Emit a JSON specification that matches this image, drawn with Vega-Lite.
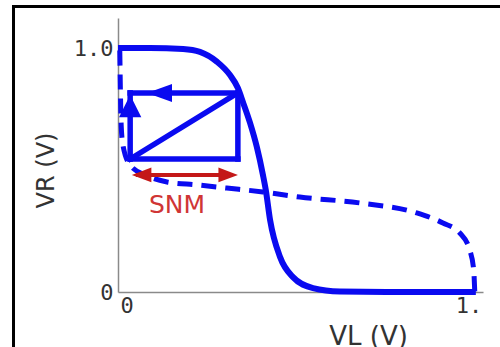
{
  "$schema": "https://vega.github.io/schema/vega-lite/v6.json",
  "width": 365,
  "height": 274,
  "autosize": {"type": "none"},
  "padding": {"left": 118, "top": 18, "right": 17, "bottom": 55},
  "background": "white",
  "config": {"view": {"stroke": null}, "axis": {"grid": false}},
  "data": {"values": [{}]},
  "datasets": {
    "inverter_a": [
      {"vl": 0.0, "vr": 1.0},
      {"vl": 0.089, "vr": 1.0},
      {"vl": 0.182, "vr": 0.996},
      {"vl": 0.229, "vr": 0.984},
      {"vl": 0.277, "vr": 0.943},
      {"vl": 0.313, "vr": 0.889},
      {"vl": 0.335, "vr": 0.836},
      {"vl": 0.349, "vr": 0.779},
      {"vl": 0.369, "vr": 0.693},
      {"vl": 0.388, "vr": 0.594},
      {"vl": 0.405, "vr": 0.48},
      {"vl": 0.413, "vr": 0.418},
      {"vl": 0.425, "vr": 0.295},
      {"vl": 0.453, "vr": 0.143},
      {"vl": 0.489, "vr": 0.061},
      {"vl": 0.545, "vr": 0.016},
      {"vl": 0.62, "vr": 0.002},
      {"vl": 0.75, "vr": 0.0},
      {"vl": 1.0, "vr": 0.0}
    ],
    "inverter_b": [
      {"vl": 0.005, "vr": 0.99},
      {"vl": 0.007, "vr": 0.8},
      {"vl": 0.009, "vr": 0.68},
      {"vl": 0.014, "vr": 0.6},
      {"vl": 0.034, "vr": 0.52},
      {"vl": 0.075, "vr": 0.48},
      {"vl": 0.137, "vr": 0.451},
      {"vl": 0.221, "vr": 0.439},
      {"vl": 0.304, "vr": 0.426},
      {"vl": 0.405, "vr": 0.41},
      {"vl": 0.508, "vr": 0.389},
      {"vl": 0.676, "vr": 0.365},
      {"vl": 0.835, "vr": 0.324},
      {"vl": 0.908, "vr": 0.283},
      {"vl": 0.955, "vr": 0.242},
      {"vl": 0.983, "vr": 0.172},
      {"vl": 0.994, "vr": 0.09},
      {"vl": 0.997, "vr": 0.0}
    ],
    "snm_box": [
      {"x": 0.034, "y": 0.816, "x2": 0.335, "y2": 0.816},
      {"x": 0.335, "y": 0.816, "x2": 0.335, "y2": 0.545},
      {"x": 0.335, "y": 0.545, "x2": 0.034, "y2": 0.545},
      {"x": 0.034, "y": 0.545, "x2": 0.034, "y2": 0.816},
      {"x": 0.034, "y": 0.545, "x2": 0.335, "y2": 0.816}
    ]
  },
  "layer": [
    {
      "mark": {"type": "rect", "filled": false, "stroke": "black", "strokeWidth": 3},
      "encoding": {
        "x": {"datum": -0.292, "type": "quantitative", "scale": {"domain": [0, 1.02], "nice": false, "zero": false}},
        "x2": {"datum": 1.25},
        "y": {"datum": 1.17, "type": "quantitative", "scale": {"domain": [0, 1.123], "nice": false, "zero": false}},
        "y2": {"datum": -0.6}
      }
    },
    {
      "data": {"name": "inverter_a"},
      "mark": {"type": "line", "color": "#0a0af0", "strokeWidth": 6, "interpolate": "monotone", "clip": false},
      "encoding": {
        "x": {
          "field": "vl", "type": "quantitative",
          "scale": {"domain": [0, 1.02], "nice": false, "zero": false},
          "axis": {
            "values": [0, 1],
            "labelExpr": "datum.value == 0 ? '0' : '1.'",
            "title": "VL (V)",
            "domainColor": "#8a8a8a", "domainWidth": 1.5,
            "ticks": false,
            "labelFont": "DejaVu Sans Mono", "labelFontSize": 22, "labelColor": "#333333",
            "labelPadding": 3,
            "labelAlign": {"condition": {"test": "datum.value == 0", "value": "left"}, "value": "right"},
            "labelOffset": {"condition": {"test": "datum.value == 0", "value": 2}, "value": 6},
            "labelBound": false, "labelOverlap": false, "labelFlush": false,
            "titleFont": "DejaVu Sans", "titleFontSize": 26, "titleFontWeight": "normal", "titleColor": "#333333",
            "titleX": 250, "titleY": 52, "titleAlign": "center", "titleBaseline": "alphabetic"
          }
        },
        "y": {
          "field": "vr", "type": "quantitative",
          "scale": {"domain": [0, 1.123], "nice": false, "zero": false},
          "axis": {
            "values": [0, 1],
            "labelExpr": "datum.value == 0 ? '0' : '1.0'",
            "title": "VR (V)",
            "domainColor": "#8a8a8a", "domainWidth": 1.5,
            "ticks": false,
            "labelFont": "DejaVu Sans Mono", "labelFontSize": 22, "labelColor": "#333333",
            "labelPadding": 5, "labelBaseline": "middle",
            "labelBound": false, "labelOverlap": false, "labelFlush": false,
            "titleFont": "DejaVu Sans", "titleFontSize": 24, "titleFontWeight": "normal", "titleColor": "#333333",
            "titleAngle": 270, "titleX": -72, "titleY": 152, "titleAlign": "center", "titleBaseline": "middle"
          }
        }
      }
    },
    {
      "data": {"name": "inverter_b"},
      "mark": {"type": "line", "color": "#0a0af0", "strokeWidth": 5, "strokeDash": [15, 9], "interpolate": "monotone", "clip": false},
      "encoding": {
        "x": {"field": "vl", "type": "quantitative", "scale": {"domain": [0, 1.02], "nice": false, "zero": false}},
        "y": {"field": "vr", "type": "quantitative", "scale": {"domain": [0, 1.123], "nice": false, "zero": false}}
      }
    },
    {
      "data": {"name": "snm_box"},
      "mark": {"type": "rule", "color": "#0a0af0", "strokeWidth": 5.5, "strokeCap": "square"},
      "encoding": {
        "x": {"field": "x", "type": "quantitative", "scale": {"domain": [0, 1.02], "nice": false, "zero": false}},
        "x2": {"field": "x2"},
        "y": {"field": "y", "type": "quantitative", "scale": {"domain": [0, 1.123], "nice": false, "zero": false}},
        "y2": {"field": "y2"}
      }
    },
    {
      "mark": {"type": "point", "filled": true, "opacity": 1, "color": "#0a0af0", "shape": "M-1,0L1,-0.72L1,0.72Z", "size": 625},
      "encoding": {
        "x": {"datum": 0.116, "type": "quantitative", "scale": {"domain": [0, 1.02], "nice": false, "zero": false}},
        "y": {"datum": 0.816, "type": "quantitative", "scale": {"domain": [0, 1.123], "nice": false, "zero": false}}
      }
    },
    {
      "mark": {"type": "point", "filled": true, "opacity": 1, "color": "#0a0af0", "shape": "M0,-1L1,1L-1,1Z", "size": 500},
      "encoding": {
        "x": {"datum": 0.034, "type": "quantitative", "scale": {"domain": [0, 1.02], "nice": false, "zero": false}},
        "y": {"datum": 0.762, "type": "quantitative", "scale": {"domain": [0, 1.123], "nice": false, "zero": false}}
      }
    },
    {
      "mark": {"type": "rule", "color": "#c41818", "strokeWidth": 4},
      "encoding": {
        "x": {"datum": 0.05, "type": "quantitative", "scale": {"domain": [0, 1.02], "nice": false, "zero": false}},
        "x2": {"datum": 0.32},
        "y": {"datum": 0.48, "type": "quantitative", "scale": {"domain": [0, 1.123], "nice": false, "zero": false}}
      }
    },
    {
      "mark": {"type": "point", "filled": true, "opacity": 1, "color": "#c41818", "shape": "M-1,0L1,-0.75L1,0.75Z", "size": 380},
      "encoding": {
        "x": {"datum": 0.066, "type": "quantitative", "scale": {"domain": [0, 1.02], "nice": false, "zero": false}},
        "y": {"datum": 0.48, "type": "quantitative", "scale": {"domain": [0, 1.123], "nice": false, "zero": false}}
      }
    },
    {
      "mark": {"type": "point", "filled": true, "opacity": 1, "color": "#c41818", "shape": "M1,0L-1,-0.75L-1,0.75Z", "size": 380},
      "encoding": {
        "x": {"datum": 0.308, "type": "quantitative", "scale": {"domain": [0, 1.02], "nice": false, "zero": false}},
        "y": {"datum": 0.48, "type": "quantitative", "scale": {"domain": [0, 1.123], "nice": false, "zero": false}}
      }
    },
    {
      "mark": {"type": "text", "text": "SNM", "font": "DejaVu Sans", "fontSize": 25, "color": "#d03535", "align": "center", "baseline": "middle"},
      "encoding": {
        "x": {"datum": 0.165, "type": "quantitative", "scale": {"domain": [0, 1.02], "nice": false, "zero": false}},
        "y": {"datum": 0.357, "type": "quantitative", "scale": {"domain": [0, 1.123], "nice": false, "zero": false}}
      }
    }
  ]
}
